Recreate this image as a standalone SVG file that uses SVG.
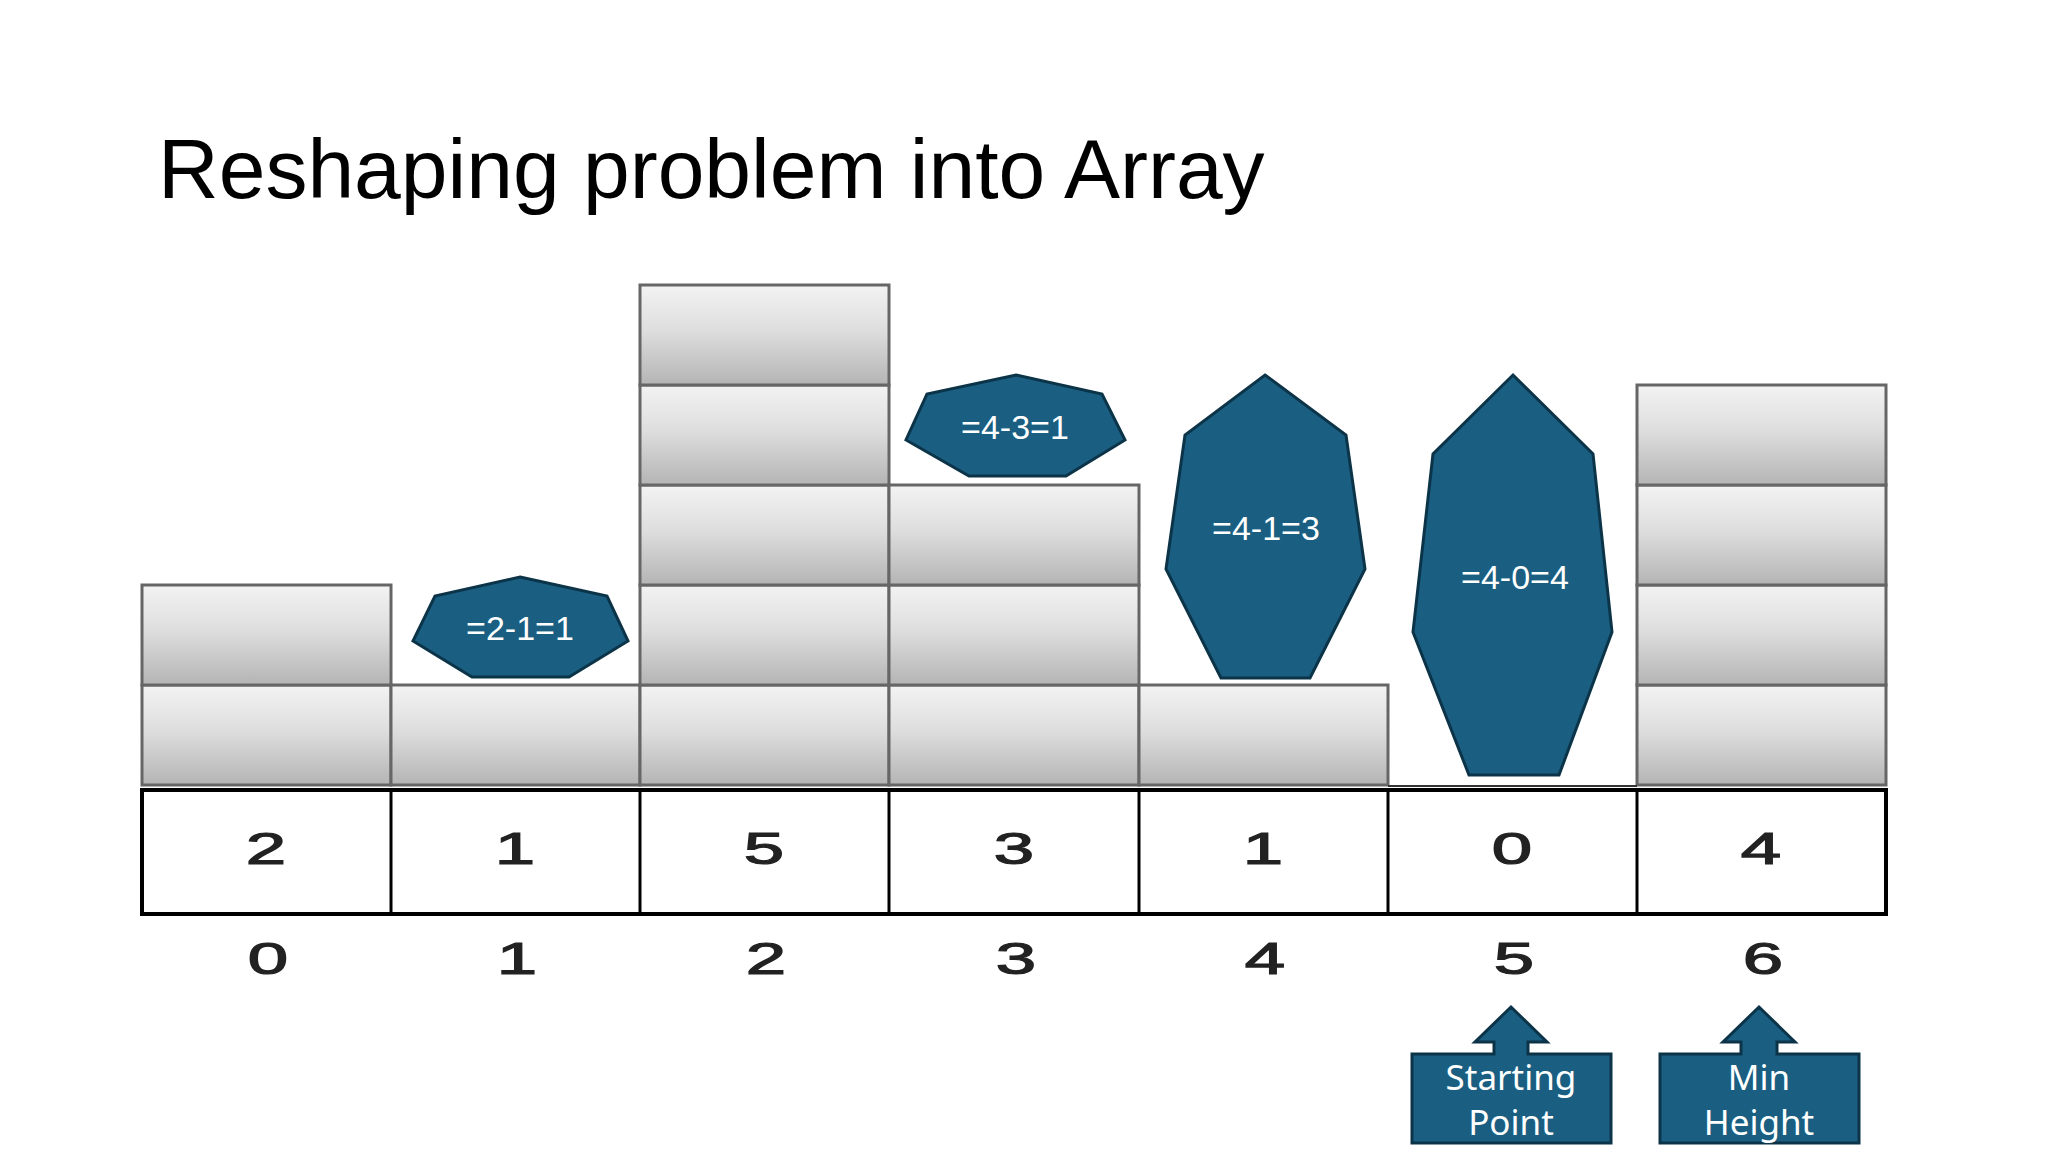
<svg xmlns="http://www.w3.org/2000/svg" width="2048" height="1152" viewBox="0 0 2048 1152">
<defs>
<linearGradient id="blk" x1="0" y1="0" x2="0" y2="1">
<stop offset="0" stop-color="#f3f3f3"/>
<stop offset="0.45" stop-color="#dedede"/>
<stop offset="1" stop-color="#b4b4b4"/>
</linearGradient>
</defs>
<style>
.blk{fill:url(#blk);stroke:#666666;stroke-width:3}
.cell{fill:#ffffff;stroke:#000000;stroke-width:3}
.hep{fill:#1a5f82;stroke:#0c3449;stroke-width:3}
.ht{font-family:"Liberation Sans",Arial,sans-serif;font-size:34px;fill:#ffffff;text-anchor:middle}
.dig{font-family:"Liberation Sans",Arial,sans-serif;font-size:44px;fill:#222222;stroke:#222222;stroke-width:1.2;text-anchor:middle}
.ct{font-family:"Noto Sans","Open Sans",sans-serif;font-size:35px;fill:#ffffff;text-anchor:middle}
.title{font-family:"Liberation Sans",Arial,sans-serif;font-size:84px;fill:#000000}
</style>
<rect width="2048" height="1152" fill="#ffffff"/>
<text class="title" x="158" y="198">Reshaping problem into Array</text>

<g id="blocks">
<rect class="blk" x="142" y="685" width="249" height="100"/>
<rect class="blk" x="142" y="585" width="249" height="100"/>
<rect class="blk" x="391" y="685" width="249" height="100"/>
<rect class="blk" x="640" y="685" width="249" height="100"/>
<rect class="blk" x="640" y="585" width="249" height="100"/>
<rect class="blk" x="640" y="485" width="249" height="100"/>
<rect class="blk" x="640" y="385" width="249" height="100"/>
<rect class="blk" x="640" y="285" width="249" height="100"/>
<rect class="blk" x="889" y="685" width="250" height="100"/>
<rect class="blk" x="889" y="585" width="250" height="100"/>
<rect class="blk" x="889" y="485" width="250" height="100"/>
<rect class="blk" x="1139" y="685" width="249" height="100"/>
<rect class="blk" x="1637" y="685" width="249" height="100"/>
<rect class="blk" x="1637" y="585" width="249" height="100"/>
<rect class="blk" x="1637" y="485" width="249" height="100"/>
<rect class="blk" x="1637" y="385" width="249" height="100"/>
<line x1="1388" y1="786" x2="1637" y2="786" stroke="#333333" stroke-width="2"/>
</g>

<g id="array">
<rect x="142" y="790" width="1744" height="124" fill="#ffffff" stroke="#000000" stroke-width="4"/>
<line class="cell" x1="391" y1="790" x2="391" y2="914"/>
<line class="cell" x1="640" y1="790" x2="640" y2="914"/>
<line class="cell" x1="889" y1="790" x2="889" y2="914"/>
<line class="cell" x1="1139" y1="790" x2="1139" y2="914"/>
<line class="cell" x1="1388" y1="790" x2="1388" y2="914"/>
<line class="cell" x1="1637" y1="790" x2="1637" y2="914"/>
<g class="dig">
<text transform="translate(266,864) scale(1.65,1)">2</text>
<text transform="translate(515,864) scale(1.65,1)">1</text>
<text transform="translate(764,864) scale(1.65,1)">5</text>
<text transform="translate(1014,864) scale(1.65,1)">3</text>
<text transform="translate(1263,864) scale(1.65,1)">1</text>
<text transform="translate(1512,864) scale(1.65,1)">0</text>
<text transform="translate(1761,864) scale(1.65,1)">4</text>
</g>
</g>

<g id="indices" class="dig">
<text transform="translate(268,974) scale(1.65,1)">0</text>
<text transform="translate(517,974) scale(1.65,1)">1</text>
<text transform="translate(766,974) scale(1.65,1)">2</text>
<text transform="translate(1016,974) scale(1.65,1)">3</text>
<text transform="translate(1265,974) scale(1.65,1)">4</text>
<text transform="translate(1514,974) scale(1.65,1)">5</text>
<text transform="translate(1763,974) scale(1.65,1)">6</text>
</g>

<g id="water1">
<polygon class="hep" points="520,577 607,596 628,641 569,677 472,677 413,641 435,596"/>
<text class="ht" x="520" y="640">=2-1=1</text>
</g>
<g id="water3">
<polygon class="hep" points="1016,375 1102,394 1125,440 1066,476 969,476 906,440 927,394"/>
<text class="ht" x="1015" y="439">=4-3=1</text>
</g>
<g id="water4">
<polygon class="hep" points="1265,375 1346,435 1365,569 1310,678 1221,678 1166,569 1185,435"/>
<text class="ht" x="1266" y="540">=4-1=3</text>
</g>
<g id="water5">
<polygon class="hep" points="1513,375 1593,454 1612,632 1559,775 1469,775 1413,632 1433,454"/>
<text class="ht" x="1515" y="589">=4-0=4</text>
</g>

<g id="callout-start">
<path class="hep" d="M1412,1054 H1494 V1042 H1475 L1511,1007 L1547,1042 H1528 V1054 H1611 V1143 H1412 Z"/>
<text class="ct" x="1511" y="1090">Starting</text>
<text class="ct" x="1511" y="1135">Point</text>
</g>
<g id="callout-min">
<path class="hep" d="M1660,1054 H1741 V1042 H1723 L1759,1007 L1795,1042 H1777 V1054 H1859 V1143 H1660 Z"/>
<text class="ct" x="1759" y="1090">Min</text>
<text class="ct" x="1759" y="1135">Height</text>
</g>
<g id="connectors"/>
</svg>
